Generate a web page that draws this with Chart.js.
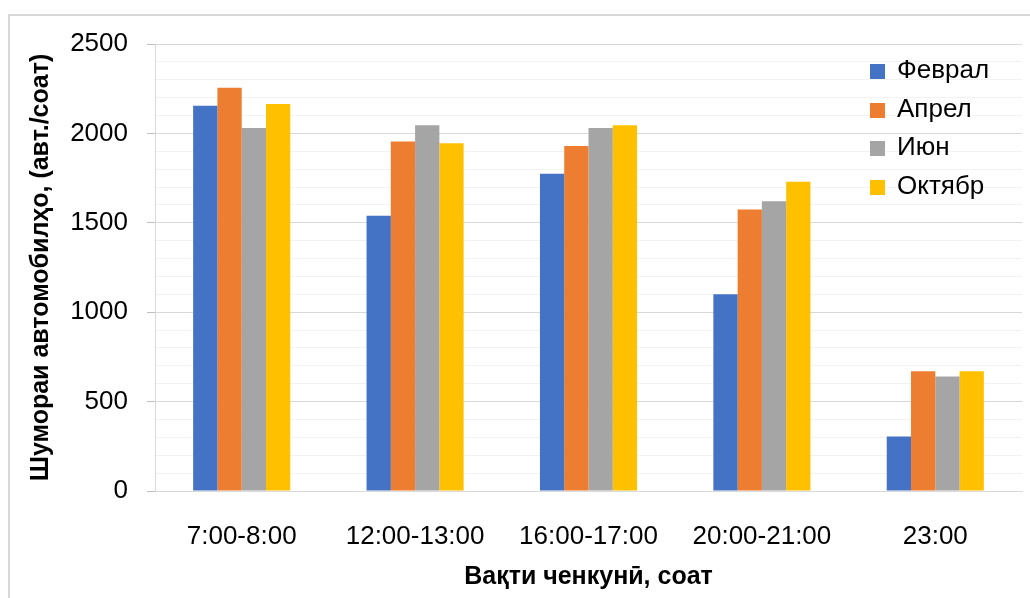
<!DOCTYPE html>
<html>
<head>
<meta charset="utf-8">
<script src="https://cdn.jsdelivr.net/npm/chart.js@4.4.1/dist/chart.umd.min.js"></script>
<style>
    html, body { margin: 0; padding: 0; background: #fff; }
    #wrap { position: relative; width: 1030px; height: 598px; overflow: hidden; }
    #frame {
        position: absolute; left: 8px; top: 14px; width: 1100px; height: 700px;
        border-left: 2px solid #d9d9d9; border-top: 2px solid #d9d9d9;
        pointer-events: none;
    }
    #legend {
        position: absolute; left: 870px; top: 50px;
        font-family: "Liberation Sans", Arial, sans-serif; font-size: 26px; color: #000;
    }
    .item { height: 38.5px; line-height: 38.5px; white-space: nowrap; }
    .box { display: inline-block; width: 15px; height: 15px; margin-right: 12px; vertical-align: -1px; }
</style>
</head>
<body>
<div id="wrap">
    <canvas id="chart" width="1030" height="598"></canvas>
    <div id="frame"></div>
    <div id="legend"></div>
</div>
<script>
const categories = ["7:00-8:00", "12:00-13:00", "16:00-17:00", "20:00-21:00", "23:00"];
const seriesNames = ["Феврал", "Апрел", "Июн", "Октябр"];
const seriesColors = ["#4472C4", "#ED7D31", "#A5A5A5", "#FFC000"];

const february = [2155, 1540, 1775, 1100, 305];
const april = [2255, 1955, 1930, 1575, 670];
const june = [2030, 2045, 2030, 1620, 640];
const october = [2165, 1945, 2045, 1730, 670];

const yTitle = "Шумораи автомобилҳо, (авт./соат)";
const xTitle = "Вақти ченкунӣ, соат";

const seriesValues = [february, april, june, october];

const font = "'Liberation Sans', Arial, sans-serif";

const datasets = seriesNames.map((name, i) => ({
    label: name,
    data: seriesValues[i],
    backgroundColor: seriesColors[i],
    borderWidth: 0,
    categoryPercentage: 0.56,
    barPercentage: 1.0
}));

// legend drawn as html so it can sit over the plot like in excel
const legendEl = document.getElementById('legend');
seriesNames.forEach((name, i) => {
    const row = document.createElement('div');
    row.classList.add('item');
    row.innerHTML = `<span class="box" style="background:${seriesColors[i]}"></span>${name}`;
    legendEl.appendChild(row);
});

const isMajor = v => v % 500 === 0;

new Chart(document.getElementById('chart').getContext('2d'), {
    type: 'bar',
    data: { labels: categories, datasets: datasets },
    options: {
        responsive: false,
        animation: false,
        layout: { padding: { left: 20, right: 8, top: 44, bottom: 4 } },
        plugins: { legend: { display: false }, tooltip: { enabled: false } },
        scales: {
            x: {
                afterFit: scale => { scale.height = 103; },
                grid: { display: false },
                border: { display: true, color: '#d9d9d9', width: 1 },
                ticks: { color: '#000', font: { family: font, size: 26 }, padding: 22, maxRotation: 0 },
                title: {
                    display: true, text: xTitle, color: '#000',
                    font: { family: font, size: 25, weight: 'bold' },
                    padding: { top: 8, bottom: 2 }
                }
            },
            y: {
                min: 0,
                max: 2500,
                afterFit: scale => { scale.width = 135; },
                grid: {
                    color: ctx => isMajor(ctx.tick.value) ? '#d9d9d9' : '#f2f2f2',
                    tickColor: ctx => isMajor(ctx.tick.value) ? '#bfbfbf' : 'rgba(0,0,0,0)',
                    tickLength: 8,
                    lineWidth: 1
                },
                border: { display: true, color: '#d9d9d9', width: 1 },
                ticks: {
                    stepSize: 100,
                    autoSkip: false,
                    color: '#000',
                    padding: 19,
                    font: { family: font, size: 26 },
                    callback: v => isMajor(v) ? v : ''
                },
                title: {
                    display: true, text: yTitle, color: '#000',
                    font: { family: font, size: 25, weight: 'bold' },
                    padding: { top: 6, bottom: 0 }
                }
            }
        }
    }
});
</script>
</body>
</html>
